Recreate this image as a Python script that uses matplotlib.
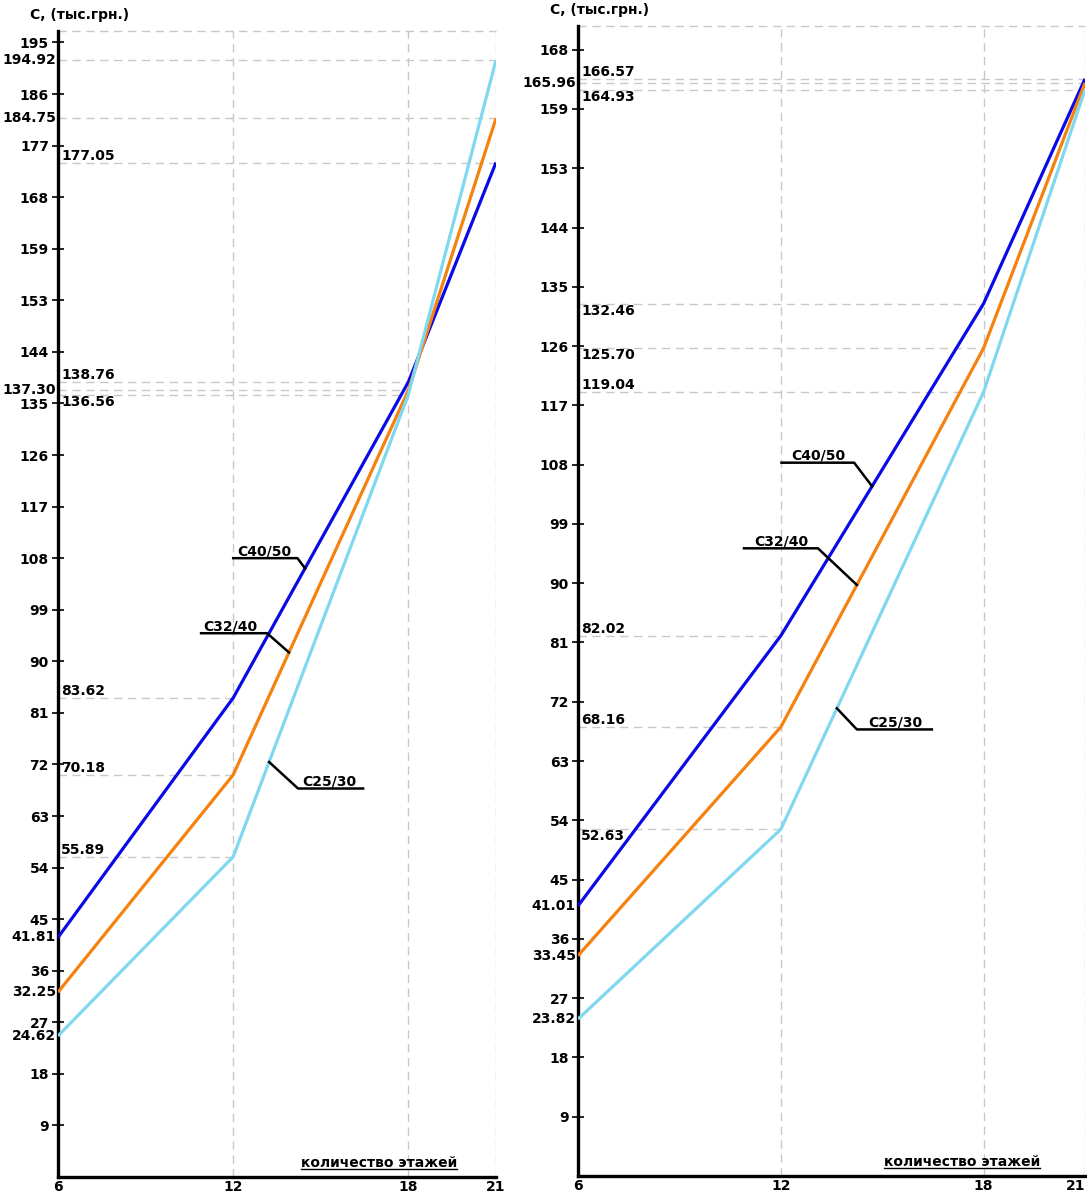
import numpy as np
import matplotlib
matplotlib.use("Agg")
import matplotlib.pyplot as plt
import matplotlib.transforms as mtransforms

# --- data ---------------------------------------------------------------
floors = [6, 12, 18, 21]
grades = ["С40/50", "С32/40", "С25/30"]

left_c4050 = [41.81, 83.62, 138.76, 177.05]
left_c3240 = [32.25, 70.18, 137.30, 184.75]
left_c2530 = [24.62, 55.89, 136.56, 194.92]

right_c4050 = [41.01, 82.02, 132.46, 166.57]
right_c3240 = [33.45, 68.16, 125.70, 165.96]
right_c2530 = [23.82, 52.63, 119.04, 164.93]

left_tick_labels = ["9", "18", "27", "36", "45", "54", "63", "72", "81", "90",
                    "99", "108", "117", "126", "135", "144", "153", "159",
                    "168", "177", "186", "195"]
right_tick_labels = ["9", "18", "27", "36", "45", "54", "63", "72", "81", "90",
                     "99", "108", "117", "126", "135", "144", "153", "159",
                     "168"]

# --- style --------------------------------------------------------------
COLORS = ["#0a0ae6", "#f5820f", "#80d8f0"]
GRID = "#c8c8c8"
FONT = dict(fontfamily="DejaVu Sans", fontweight="bold", fontsize=10)

# where each value label goes: left of axis, or right of axis above/below line
LEFT_MODES = [["left", "above", "above", "above"],
              ["left", "above", "left", "left"],
              ["left", "above", "below", "left"]]
RIGHT_MODES = [["left", "above", "below", "above"],
               ["left", "above", "below", "left"],
               ["left", "below", "above", "below"]]

# callouts: (text x, underline x0, x1, underline y, x on the curve)
LEFT_CALLOUTS = [(13.05, 12.0, 14.2, 108.0, 14.46),
                 (11.9, 10.9, 13.16, 94.9, 13.91),
                 (15.3, 16.45, 14.22, 67.8, 13.23)]
RIGHT_CALLOUTS = [(13.12, 12.02, 14.17, 108.3, 14.7),
                  (12.02, 10.91, 13.1, 95.3, 14.25),
                  (15.38, 16.47, 14.25, 67.8, 13.66)]


def draw_panel(ax, series, tick_labels, ytop, modes, callouts):
    ax.set_xlim(6, 21)
    ax.set_ylim(0, ytop)

    for s in ax.spines.values():
        s.set_visible(False)
    ax.spines["left"].set_visible(True)
    ax.spines["bottom"].set_visible(True)
    ax.spines["left"].set_linewidth(2.4)
    ax.spines["bottom"].set_linewidth(2.4)

    # grid: verticals at 12, 18, 21 and the top border
    for x in floors[1:]:
        ax.axvline(x, color=GRID, linestyle=(0, (6, 4)), linewidth=1.0, zorder=1)
    ax.axhline(ytop, color=GRID, linestyle=(0, (6, 4)), linewidth=1.0, zorder=1, clip_on=False)

    ax.set_xticks(floors)
    ax.set_xticklabels([str(f) for f in floors], **FONT)
    ax.tick_params(axis="x", length=0, pad=2)

    ticks = [9 * (i + 1) for i in range(len(tick_labels))]
    ax.set_yticks(ticks)
    ax.set_yticklabels(tick_labels, **FONT)
    ax.tick_params(axis="y", direction="inout", length=9, width=1.2, pad=2)

    trans = mtransforms.blended_transform_factory(ax.transAxes, ax.transData)
    off_r = mtransforms.offset_copy(trans, fig=ax.figure, x=3, y=0, units="dots")
    off_l = mtransforms.offset_copy(trans, fig=ax.figure, x=-2, y=0, units="dots")

    for vals, color, mode_row in zip(series, COLORS, modes):
        ax.plot(floors, vals, color=color, linewidth=2.3, zorder=3, solid_capstyle="butt")
        for x, v, mode in zip(floors, vals, mode_row):
            if x != floors[0]:
                ax.plot([floors[0], x], [v, v], color=GRID, linestyle=(0, (6, 4)),
                        linewidth=1.0, zorder=1)
            label = f"{v:.2f}"
            if mode == "left":
                ax.text(0, v, label, transform=off_l, ha="right", va="center", **FONT)
            elif mode == "above":
                ax.text(0, v, label, transform=off_r, ha="left", va="bottom", **FONT)
            else:
                ax.text(0, v, label, transform=off_r, ha="left", va="top", **FONT)

    for name, vals, (tx, ux0, ux1, uy, cx) in zip(grades, series, callouts):
        cy = np.interp(cx, floors, vals)
        ax.plot([ux0, ux1, cx], [uy, uy, cy], color="black", linewidth=1.8, zorder=4)
        ax.text(tx, uy, name, ha="center", va="bottom", zorder=5, **FONT)

    ylab_tr = mtransforms.offset_copy(ax.transAxes, fig=ax.figure, x=-28, y=0, units="dots")
    ax.text(0, 1.008, "С, (тыс.грн.)", transform=ylab_tr, ha="left",
            va="bottom", **FONT)

    xl = ax.text(0.912, 0.006, "количество этажей", transform=ax.transAxes,
                 ha="right", va="bottom", **FONT)
    return xl


fig = plt.figure(figsize=(10.87, 11.93), dpi=100)
ax_l = fig.add_axes([58 / 1087, 16 / 1193, 438 / 1087, 1146 / 1193])
ax_r = fig.add_axes([578 / 1087, 17 / 1193, 507 / 1087, 1150 / 1193])

xl_l = draw_panel(ax_l, [left_c4050, left_c3240, left_c2530], left_tick_labels, 200,
                  LEFT_MODES, LEFT_CALLOUTS)
xl_r = draw_panel(ax_r, [right_c4050, right_c3240, right_c2530], right_tick_labels, 174.6,
                  RIGHT_MODES, RIGHT_CALLOUTS)

# last x tick of the right panel sits on the figure edge
ax_r.get_xticklabels()[-1].set_horizontalalignment("right")

# underline the x-axis captions
fig.canvas.draw()
renderer = fig.canvas.get_renderer()
for ax, xl in [(ax_l, xl_l), (ax_r, xl_r)]:
    bb = xl.get_window_extent(renderer).transformed(ax.transAxes.inverted())
    ax.plot([bb.x0, bb.x1], [bb.y0 + 0.001, bb.y0 + 0.001], transform=ax.transAxes,
            color="black", linewidth=1.0, clip_on=False)

fig.savefig("out.png", dpi=100)
